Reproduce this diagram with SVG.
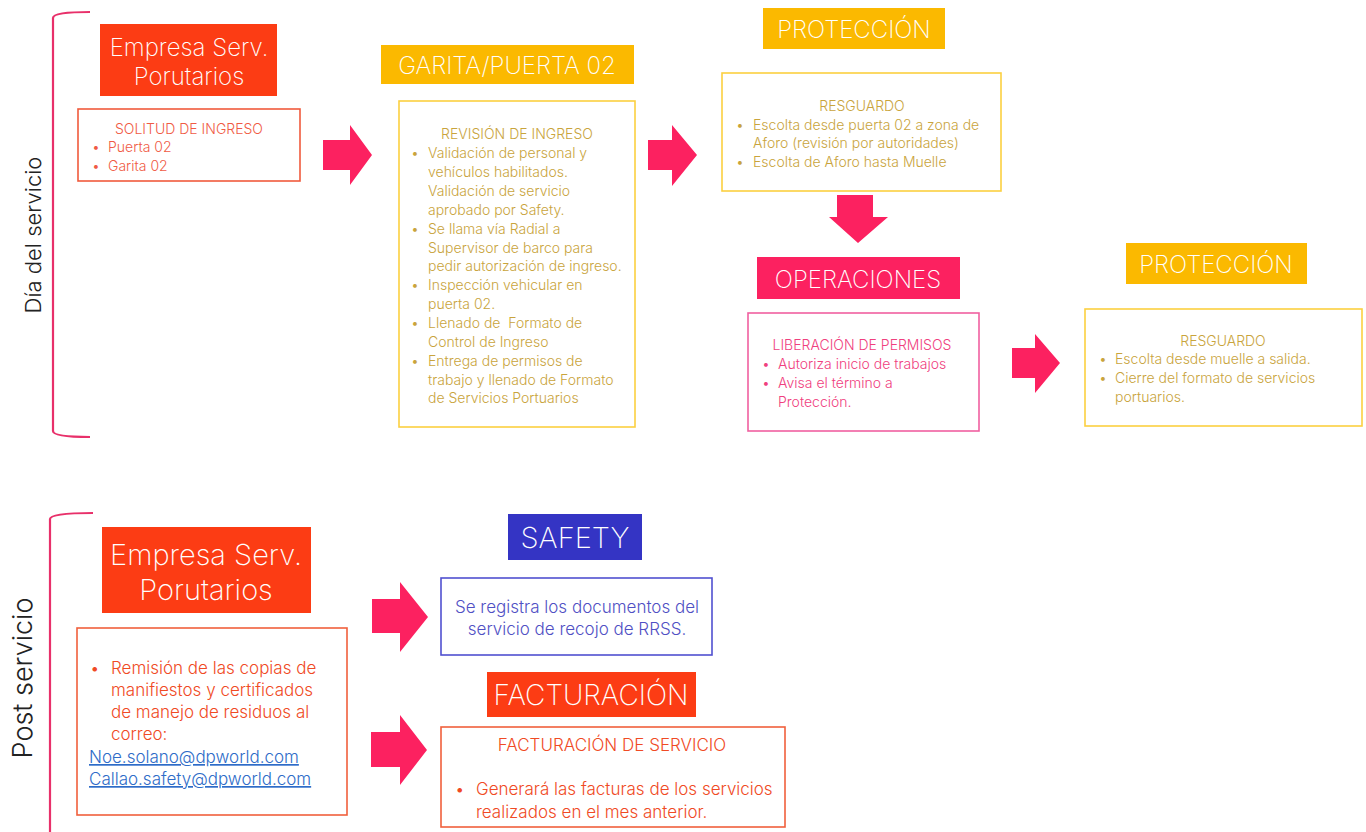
<svg xmlns="http://www.w3.org/2000/svg" width="1366" height="832" viewBox="0 0 1366 832">
<style>
text{font-family:Inter,"Liberation Sans",sans-serif;font-weight:300}
.hd{fill:#fff;text-anchor:middle;font-weight:250}
.side{fill:#222;text-anchor:middle}
.c{text-anchor:middle}
.box{fill:#fff;stroke-width:1.6}
.arr{fill:#fc2160}
.br{fill:none;stroke:#e8306a;stroke-width:2.2}
.s14{font-size:14px}
.s17{font-size:17px}
.red{fill:#f05a44}
.gold{fill:#c9a43c}
.pink{fill:#f0407e}
.blue{fill:#5050c4}
.org{fill:#f04a24}
.lnk{fill:#2e6cc8;text-decoration:underline}
</style>
<rect width="1366" height="832" fill="#fff"/>
<g id="brackets">
<path class="br" d="M90 12 Q53 12 53 18 L53 431 Q53 437 90 437"/>
<path class="br" d="M93 513 Q50 513 50 519 L50 832"/>
<text class="side" font-size="22" transform="translate(41 235) rotate(-90)">Día del servicio</text>
<text class="side" font-size="27" transform="translate(32 678) rotate(-90)">Post servicio</text>
</g>
<g id="connectors">
<polygon class="arr" points="323,140 350,140 350,125 372,155 350,185 350,170 323,170"/>
<polygon class="arr" points="648,140 672,140 672,125 697,155 672,186 672,170 648,170"/>
<polygon class="arr" points="837,195 873,195 873,217 888,217 858,243 829,217 837,217"/>
<polygon class="arr" points="1012,348 1035,348 1035,334 1060,363 1035,393 1035,378 1012,378"/>
<polygon class="arr" points="372,599 400,599 400,582 428,617 400,652 400,633 372,633"/>
<polygon class="arr" points="371,732 400,732 400,715 427,750 400,785 400,767 371,767"/>
</g>
<g id="empresa1">
<rect x="100" y="24" width="177" height="72" fill="#fc3c14"/>
<text class="hd" font-size="24" x="189" y="56">Empresa Serv.</text>
<text class="hd" font-size="24" x="189" y="85">Porutarios</text>
</g>
<g id="solitud">
<rect class="box" x="78" y="109" width="222" height="72" stroke="#f05a3c"/>
<text class="s14 red c" x="189" y="134">SOLITUD DE INGRESO</text>
<text class="s14 red" x="92" y="152">•</text><text class="s14 red" x="108" y="152">Puerta 02</text>
<text class="s14 red" x="92" y="171">•</text><text class="s14 red" x="108" y="171">Garita 02</text>
</g>
<g id="garita">
<rect x="381" y="45" width="253" height="39" fill="#fbb900"/>
<text class="hd" font-size="24" x="507" y="74">GARITA/PUERTA 02</text>
</g>
<g id="revision">
<rect class="box" x="399" y="101" width="236" height="326" stroke="#fcd040"/>
<text class="s14 gold c" x="517" y="139">REVISIÓN DE INGRESO</text>
<g class="s14 gold">
<text x="411" y="158">•</text><text x="428" y="158">Validación de personal y</text>
<text x="428" y="177">vehículos habilitados.</text>
<text x="428" y="196">Validación de servicio</text>
<text x="428" y="215">aprobado por Safety.</text>
<text x="411" y="234">•</text><text x="428" y="234">Se llama vía Radial a</text>
<text x="428" y="253">Supervisor de barco para</text>
<text x="428" y="271">pedir autorización de ingreso.</text>
<text x="411" y="290">•</text><text x="428" y="290">Inspección vehicular en</text>
<text x="428" y="309">puerta 02.</text>
<text x="411" y="328">•</text><text x="428" y="328">Llenado de&#160; Formato de</text>
<text x="428" y="347">Control de Ingreso</text>
<text x="411" y="366">•</text><text x="428" y="366">Entrega de permisos de</text>
<text x="428" y="385">trabajo y llenado de Formato</text>
<text x="428" y="403">de Servicios Portuarios</text>
</g>
</g>
<g id="proteccion1">
<rect x="763" y="8" width="182" height="41" fill="#fbb900"/>
<text class="hd" font-size="24" x="854" y="38">PROTECCIÓN</text>
</g>
<g id="resguardo1">
<rect class="box" x="722" y="73" width="279" height="118" stroke="#fcd040"/>
<text class="s14 gold c" x="862" y="111">RESGUARDO</text>
<g class="s14 gold">
<text x="736" y="130">•</text><text x="753" y="130">Escolta desde puerta 02 a zona de</text>
<text x="753" y="148">Aforo (revisión por autoridades)</text>
<text x="736" y="167">•</text><text x="753" y="167">Escolta de Aforo hasta Muelle</text>
</g>
</g>
<g id="operaciones">
<rect x="757" y="257" width="203" height="42" fill="#fc2160"/>
<text class="hd" font-size="24" x="858" y="288">OPERACIONES</text>
</g>
<g id="liberacion">
<rect class="box" x="748" y="313" width="231" height="118" stroke="#f060a0"/>
<text class="s14 pink c" x="862" y="350">LIBERACIÓN DE PERMISOS</text>
<g class="s14 pink">
<text x="762" y="369">•</text><text x="778" y="369">Autoriza inicio de trabajos</text>
<text x="762" y="388">•</text><text x="778" y="388">Avisa el término a</text>
<text x="778" y="407">Protección.</text>
</g>
</g>
<g id="proteccion2">
<rect x="1126" y="243" width="181" height="41" fill="#fbb900"/>
<text class="hd" font-size="24" x="1216" y="273">PROTECCIÓN</text>
</g>
<g id="resguardo2">
<rect class="box" x="1085" y="309" width="277" height="117" stroke="#fcd040"/>
<text class="s14 gold c" x="1223" y="346">RESGUARDO</text>
<g class="s14 gold">
<text x="1099" y="364">•</text><text x="1115" y="364">Escolta desde muelle a salida.</text>
<text x="1099" y="383">•</text><text x="1115" y="383">Cierre del formato de servicios</text>
<text x="1115" y="402">portuarios.</text>
</g>
</g>
<g id="empresa2">
<rect x="102" y="527" width="209" height="86" fill="#fc3c14"/>
<text class="hd" font-size="29" x="206" y="565">Empresa Serv.</text>
<text class="hd" font-size="29" x="206" y="600">Porutarios</text>
</g>
<g id="remision">
<rect class="box" x="77" y="628" width="270" height="187" stroke="#f0603c"/>
<g class="s17 org">
<text x="90" y="674">•</text><text x="111" y="674">Remisión de las copias de</text>
<text x="111" y="696">manifiestos y certificados</text>
<text x="111" y="718">de manejo de residuos al</text>
<text x="111" y="740">correo:</text>
</g>
<text class="s17 lnk" x="89" y="763">Noe.solano@dpworld.com</text>
<text class="s17 lnk" x="89" y="785">Callao.safety@dpworld.com</text>
</g>
<g id="safety">
<rect x="508" y="514" width="134" height="46" fill="#3434c4"/>
<text class="hd" font-size="29" x="575" y="548">SAFETY</text>
</g>
<g id="registro">
<rect class="box" x="441" y="578" width="271" height="77" stroke="#5050d0"/>
<text class="s17 blue c" x="577" y="613">Se registra los documentos del</text>
<text class="s17 blue c" x="577" y="635">servicio de recojo de RRSS.</text>
</g>
<g id="facturacion">
<rect x="487" y="672" width="209" height="45" fill="#fc3c14"/>
<text class="hd" font-size="28" x="591" y="705">FACTURACIÓN</text>
</g>
<g id="facturacion-servicio">
<rect class="box" x="441" y="727" width="344" height="100" stroke="#f0603c"/>
<text class="s17 org c" x="612" y="751">FACTURACIÓN DE SERVICIO</text>
<g class="s17 org">
<text x="455" y="795">•</text><text x="476" y="795">Generará las facturas de los servicios</text>
<text x="476" y="818">realizados en el mes anterior.</text>
</g>
</g>
</svg>
